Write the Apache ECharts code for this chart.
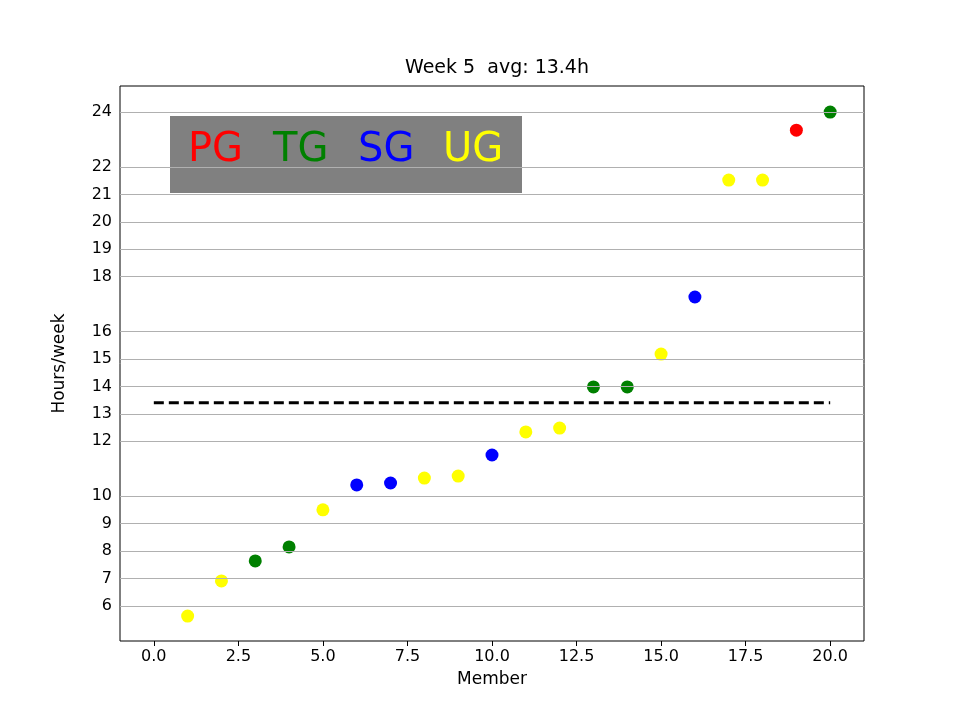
<!DOCTYPE html>
<html>
<head>
<meta charset="utf-8">
<script src="https://cdn.jsdelivr.net/npm/echarts@6/dist/echarts.min.js"></script>
<style>html,body{margin:0;padding:0;background:#fff}#c{width:960px;height:720px}</style>
</head>
<body>
<div id="c"></div>
<script>
// 数据
const members = [1,2,3,4,5,6,7,8,9,10,11,12,13,14,15,16,17,18,19,20];
const hours = [5.63,6.91,7.64,8.15,9.50,10.41,10.48,10.66,10.73,11.50,12.34,12.48,13.98,13.98,15.18,17.26,21.52,21.52,23.34,24.0];
const groups = ['UG','UG','TG','TG','UG','SG','SG','UG','UG','SG','UG','UG','TG','TG','UG','SG','UG','UG','PG','TG'];
const avgHours = 13.4;
const yTicks = [6,7,8,9,10,12,13,14,15,16,18,19,20,21,22,24];
const xTicks = [0,2.5,5,7.5,10,12.5,15,17.5,20];
const groupNames = ['PG','TG','SG','UG'];
const groupColors = {PG:'red', TG:'green', SG:'blue', UG:'yellow'};

let font = 'DejaVu Sans';
let chart = echarts.init(document.getElementById('c'));

let points = members.map((m, i) => ({
    value: [m, hours[i]],
    itemStyle: {color: groupColors[groups[i]], opacity: 1}
}));

// 图例方块
let legendItems = [{
    type: 'rect', left: 170, top: 116,
    shape: {width: 352, height: 77},
    style: {fill: '#808080'}
}];
let lx = 188;
groupNames.forEach(g => {
    legendItems.push({
        type: 'text', left: lx, top: 131,
        style: {text: g, fill: groupColors[g], font: '40px "DejaVu Sans"'}
    });
    lx += 85;
});

chart.setOption({
    animation: false,
    title: {
        text: 'Week 5  avg: 13.4h', left: 492, top: 54, textAlign: 'center',
        textStyle: {fontFamily: font, fontWeight: 'normal', fontSize: 19, color: '#000'}
    },
    grid: {left: 120, right: 96, top: 86, bottom: 79, show: true, borderColor: '#000', borderWidth: 1, backgroundColor: 'transparent'},
    xAxis: {
        type: 'value', min: -1, max: 21,
        name: 'Member', nameLocation: 'middle', nameGap: 30,
        nameTextStyle: {fontFamily: font, fontSize: 17, color: '#000'},
        axisLine: {show: false},
        axisTick: {show: true, length: 5, customValues: xTicks, lineStyle: {color: '#000'}},
        axisLabel: {customValues: xTicks, formatter: v => v.toFixed(1), fontFamily: font, fontSize: 16, color: '#000'},
        splitLine: {show: false}
    },
    yAxis: {
        type: 'value', min: 4.72, max: 24.95,
        name: 'Hours/week', nameLocation: 'middle', nameGap: 52,
        nameTextStyle: {fontFamily: font, fontSize: 17, color: '#000'},
        axisLine: {show: false},
        axisTick: {show: true, length: 5, customValues: yTicks, lineStyle: {color: '#000'}},
        axisLabel: {customValues: yTicks, fontFamily: font, fontSize: 16, color: '#000'},
        splitLine: {show: false}
    },
    graphic: legendItems,
    series: [
        {
            type: 'line', data: [], silent: true,
            markLine: {
                symbol: 'none', silent: true, label: {show: false},
                lineStyle: {color: '#b0b0b0', type: 'solid', width: 1},
                data: yTicks.map(v => ({yAxis: v}))
            }
        },
        {
            type: 'line', data: [[0, avgHours], [20, avgHours]],
            symbol: 'none', lineStyle: {color: '#000', type: [10, 5], width: 3}, z: 3
        },
        {
            type: 'scatter', data: points, symbolSize: 13, z: 4
        }
    ]
});
</script>
</body>
</html>
